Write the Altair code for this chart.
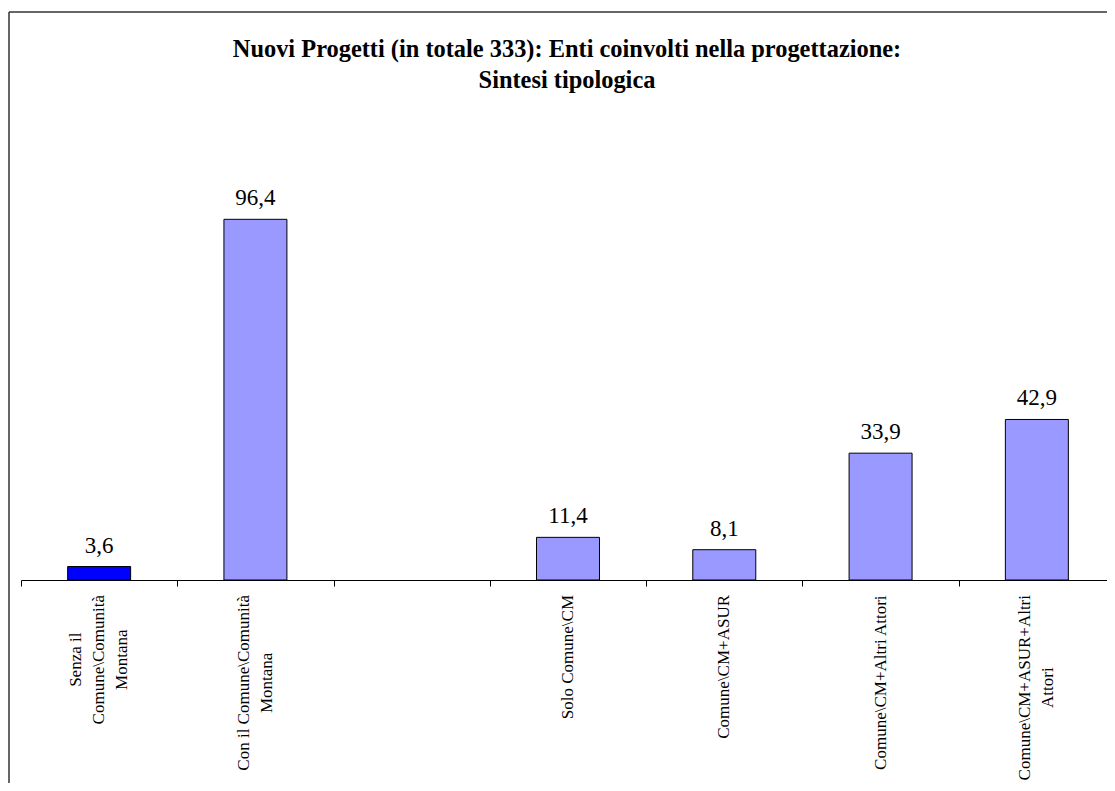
import altair as alt
import pandas as pd

# ---- data ----
CATEGORY_LINES = [
    ["Senza il", "Comune\\Comunità", "Montana"],
    ["Con il Comune\\Comunità", "Montana"],
    [],
    ["Solo Comune\\CM"],
    ["Comune\\CM+ASUR"],
    ["Comune\\CM+Altri Attori"],
    ["Comune\\CM+ASUR+Altri", "Attori"],
]
VALUES = [3.6, 96.4, None, 11.4, 8.1, 33.9, 42.9]
TITLE = ["Nuovi Progetti (in totale 333): Enti coinvolti nella progettazione:",
         "Sintesi tipologica"]

SERIF = "Liberation Serif"
LABEL_SIZE = 17
LINE_H = 23
PLOT_H = 449
LABEL_GAP = 15

# approximate Times widths (em/1000), used to centre the rotated label blocks
W = {" ": 250, "\\": 278, "+": 564, "A": 722, "C": 667, "M": 889, "R": 667, "S": 556,
     "U": 722, "a": 444, "c": 444, "e": 444, "i": 278, "l": 278, "m": 778, "n": 500,
     "o": 500, "r": 333, "t": 278, "u": 500, "z": 444, "à": 444}


def text_width(s):
    return sum(W.get(ch, 500) for ch in s) * LABEL_SIZE / 1000.0


keys = ["|".join(l) if l else " " for l in CATEGORY_LINES]

rows = []
for i, (k, v) in enumerate(zip(keys, VALUES)):
    if v is None:
        continue
    rows.append({"cat": k, "value": v, "idx": i,
                 "txt": f"{v:.1f}".replace(".", ",")})
df = pd.DataFrame(rows)

lab_rows = []
for k, lines in zip(keys, CATEGORY_LINES):
    if not lines:
        continue
    wmax = max(text_width(l) for l in lines)
    lab_rows.append({"cat": k, "lab": k, "n": len(lines),
                     "ypx": PLOT_H + LABEL_GAP + wmax / 2})
df_lab = pd.DataFrame(lab_rows)

x_scale = alt.Scale(domain=keys, range=[0, 1094], paddingInner=0, paddingOuter=0)
x_axis = alt.Axis(
    title=None,
    labels=False,
    tickBand="extent",
    tickSize=6,
    tickColor="black",
    domainColor="black",
    domainWidth=1,
    grid=False,
)
x_enc = alt.X("cat:N", sort=keys, scale=x_scale, axis=x_axis)
y_enc = alt.Y("value:Q", scale=alt.Scale(domain=[0, 120]), axis=None)

base = alt.Chart(df)

bars = base.mark_bar(stroke="black", strokeWidth=1,
                     width=alt.RelativeBandSize(0.403)).encode(
    x=x_enc,
    y=y_enc,
    color=alt.condition(alt.datum.idx == 0, alt.value("#0000FF"), alt.value("#9999FF")),
)

texts = base.mark_text(baseline="alphabetic", dy=-14, font=SERIF, fontSize=23,
                       color="black").encode(
    x=x_enc, y=y_enc, text="txt:N"
)

label_layers = []
for n in sorted(df_lab["n"].unique()):
    label_layers.append(
        alt.Chart(df_lab[df_lab["n"] == n]).mark_text(
            angle=270, align="center", baseline="middle", lineBreak="|",
            lineHeight=LINE_H, font=SERIF, fontSize=LABEL_SIZE, color="black",
            dy=-(int(n) - 1) * LINE_H / 2,
        ).encode(
            x=x_enc,
            y=alt.Y("ypx:Q", scale=None, axis=None),
            text="lab:N",
        )
    )

one = alt.Data(values=[{"k": 1}])
frame_top = alt.Chart(one).mark_rule(color="#333333", strokeWidth=1.5).encode(
    x=alt.value(-12), x2=alt.value(1100), y=alt.value(-119)
)
frame_left = alt.Chart(one).mark_rule(color="#333333", strokeWidth=1.5).encode(
    x=alt.value(-12), y=alt.value(-119), y2=alt.value(700)
)

chart = alt.layer(frame_top, frame_left, bars, texts, *label_layers).resolve_scale(
    y="independent"
).properties(
    width=1086,
    height=PLOT_H,
    title=alt.TitleParams(
        text=TITLE,
        font=SERIF,
        fontSize=24.4,
        fontWeight="bold",
        lineHeight=31,
        anchor="middle",
        frame="group",
        dx=3,
        offset=-82,
        color="black",
    ),
    autosize=alt.AutoSizeParams(type="none"),
    padding={"left": 13, "top": 123, "right": 0, "bottom": 203},
).configure(background="white").configure_view(strokeWidth=0, stroke="transparent")

chart.save("out.html", embed_options={"renderer": "svg", "actions": False})
